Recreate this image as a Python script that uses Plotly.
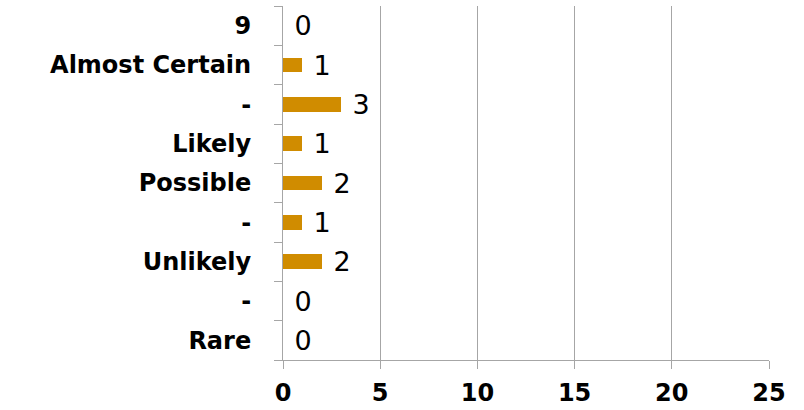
import plotly.graph_objects as go

categories = ["9", "Almost Certain", "-", "Likely", "Possible", "-", "Unlikely", "-", "Rare"]
values = [0, 1, 3, 1, 2, 1, 2, 0, 0]
x_ticks = [0, 5, 10, 15, 20, 25]

ids = ["row%d" % i for i in range(len(categories))]

fig = go.Figure()
fig.add_trace(go.Bar(
    x=values, y=ids, orientation="h",
    marker=dict(color="#D08C00", line=dict(width=0)),
    width=0.38,
    text=["\u00a0" + str(v) for v in values],
    textposition="outside",
    constraintext="none",
    cliponaxis=False,
    textfont=dict(family="DejaVu Sans", size=27, color="#000000"),
))

fig.update_layout(
    width=804, height=410,
    margin=dict(l=283, r=35, t=6, b=50),
    plot_bgcolor="white", paper_bgcolor="white",
    showlegend=False,
    bargap=0,
)
fig.update_xaxes(
    range=[0, 25], tickvals=x_ticks, ticktext=[str(t) for t in x_ticks],
    automargin=False,
    showgrid=True, gridcolor="#A6A6A6", gridwidth=1,
    zeroline=False,
    showline=True, linecolor="#A6A6A6", linewidth=1,
    ticks="outside", ticklen=8, tickcolor="#A6A6A6",
    ticklabelstandoff=3,
    tickfont=dict(family="DejaVu Sans", size=24, color="#000000", weight="bold"),
)
fig.update_yaxes(
    type="category", categoryorder="array", categoryarray=ids,
    autorange="reversed",
    automargin=False,
    tickvals=ids, ticktext=categories,
    tickson="boundaries",
    showgrid=False, zeroline=False,
    showline=True, linecolor="#A6A6A6", linewidth=1,
    ticks="outside", ticklen=8, tickcolor="#A6A6A6",
    ticklabelstandoff=26,
    tickfont=dict(family="DejaVu Sans", size=24, color="#000000", weight="bold"),
)

fig.write_html("out.html")
